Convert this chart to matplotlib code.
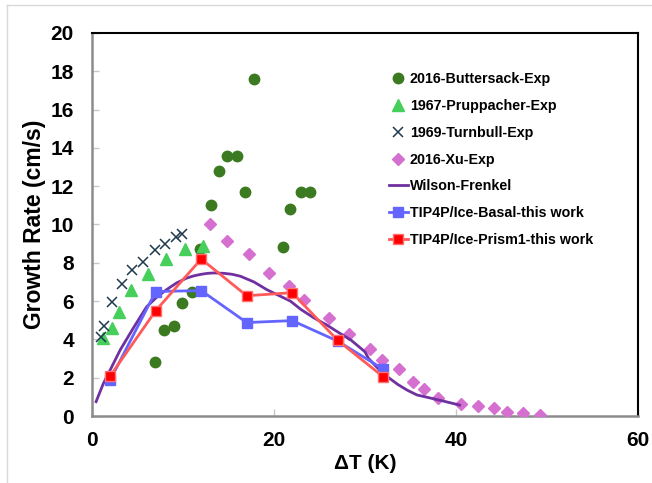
import matplotlib
matplotlib.use("Agg")
import matplotlib.pyplot as plt
from matplotlib.lines import Line2D

plt.rcParams['font.family'] = ['Liberation Sans', 'DejaVu Sans']

# Data
butt_x = [17.8, 14.8, 15.9, 14.0, 16.8, 23.0, 24.0, 13.1, 21.8, 21.0, 11.9, 11.0, 9.9, 9.0, 7.9, 6.9]
butt_y = [17.6, 13.6, 13.6, 12.8, 11.7, 11.7, 11.7, 11.0, 10.8, 8.8, 8.7, 6.5, 5.9, 4.7, 4.5, 2.8]

prup_x = [1.2, 2.2, 3.0, 4.3, 6.1, 8.1, 10.2, 12.2]
prup_y = [4.05, 4.6, 5.45, 6.6, 7.4, 8.2, 8.7, 8.9]

turn_x = [1.0, 1.3, 2.25, 3.3, 4.4, 5.65, 6.9, 8.0, 9.2, 9.9]
turn_y = [4.1, 4.7, 5.97, 6.9, 7.6, 8.05, 8.67, 8.97, 9.33, 9.5]

xu_x = [13.0, 14.8, 17.2, 19.5, 21.6, 23.3, 26.0, 28.25, 30.6, 31.9, 33.7, 35.25, 36.5, 38.0, 40.6, 42.4, 44.2, 45.6, 47.4, 49.2]
xu_y = [10.0, 9.15, 8.44, 7.45, 6.8, 6.04, 5.13, 4.28, 3.48, 2.9, 2.44, 1.76, 1.41, 0.96, 0.61, 0.5, 0.42, 0.19, 0.17, 0.05]

wf_x = [0.45, 1.25, 2.1, 3.1, 4.55, 6.0, 7.1, 8.2, 9.3, 10.4, 11.2, 12.0, 12.7, 13.4, 14.5, 15.4, 16.3, 17.8, 19.2, 20.5, 21.8, 23.0, 24.3, 25.8, 27.3, 28.5, 29.5, 30.0, 30.4, 31.2, 32.0, 32.6, 33.6, 34.6, 35.7, 36.8, 38.6, 40.4]
wf_y = [0.75, 1.7, 2.5, 3.45, 4.6, 5.7, 6.2, 6.6, 6.95, 7.2, 7.32, 7.4, 7.45, 7.47, 7.45, 7.4, 7.3, 7.0, 6.6, 6.3, 6.0, 5.55, 5.15, 4.75, 4.3, 3.95, 3.55, 3.35, 3.0, 2.6, 2.2, 2.0, 1.65, 1.36, 1.1, 0.98, 0.78, 0.57]

sim_x = [2, 7, 12, 17, 22, 27, 32]
basal_y = [1.88, 6.5, 6.55, 4.88, 4.98, 3.91, 2.45]
prism_y = [2.09, 5.5, 8.2, 6.28, 6.44, 3.95, 2.05]

xticks = [0, 20, 40, 60]
yticks = list(range(0, 21, 2))

fig = plt.figure(figsize=(6.52, 4.83), dpi=100)
ax = fig.add_axes([92/652, 1 - 416/483, 546/652, 383/483])

ax.plot(butt_x, butt_y, 'o', color='#3c7a22', markersize=7.5, linestyle='none', label='2016-Buttersack-Exp', zorder=3)
ax.plot(prup_x, prup_y, '^', color='#46cf5a', markersize=8, linestyle='none', label='1967-Pruppacher-Exp', zorder=3)
ax.plot(turn_x, turn_y, 'x', color='#1e3a4c', markersize=7, markeredgewidth=1.1, linestyle='none', label='1969-Turnbull-Exp', zorder=3)
ax.plot(xu_x, xu_y, 'D', color='#d56fd0', markersize=6, linestyle='none', label='2016-Xu-Exp', zorder=3)
ax.plot(wf_x, wf_y, '-', color='#7030a0', linewidth=2, label='Wilson-Frenkel', zorder=4)
ax.plot(sim_x, basal_y, '-s', color='#6464ff', markersize=7.5, linewidth=2, label='TIP4P/Ice-Basal-this work', zorder=5)
ax.plot(sim_x, prism_y, '-s', color='#ff5a5a', markerfacecolor='#ff0000', markeredgecolor='#ff7070',
        markersize=7.5, linewidth=2, label='TIP4P/Ice-Prism1-this work', zorder=6)

ax.set_xlim(0, 60)
ax.set_ylim(0, 20)
ax.set_xticks(xticks)
ax.set_yticks(yticks)
ax.tick_params(direction='in', length=5, width=1, color='#c8c8c8', labelsize=15)
ax.tick_params(axis='y', pad=13)
ax.tick_params(axis='x', pad=11)
for lab in ax.get_xticklabels() + ax.get_yticklabels():
    lab.set_fontweight('bold')

for s in ['left', 'bottom']:
    ax.spines[s].set_color('#8c8c8c')
    ax.spines[s].set_linewidth(1.8)
for s in ['top', 'right']:
    ax.spines[s].set_color('#000000')
    ax.spines[s].set_linewidth(1.5)

ax.set_xlabel('ΔT (K)', fontsize=15, fontweight='bold', labelpad=3)
ax.set_ylabel('Growth Rate (cm/s)', fontsize=16.5, fontweight='bold', labelpad=3)

leg = ax.legend(loc='upper left', bbox_to_anchor=((389 - 92) / 546, (416 - 72) / 383),
                frameon=False, borderpad=0, borderaxespad=0, numpoints=1,
                handlelength=1.3, handletextpad=0.15, labelspacing=0.9,
                prop={'size': 10.3, 'weight': 'bold'})

# light figure frame (top & left)
fig.add_artist(Line2D([7/652, 1.0], [1 - 5/483, 1 - 5/483], transform=fig.transFigure, color='#d9d9d9', linewidth=1))
fig.add_artist(Line2D([7/652, 7/652], [0.0, 1 - 5/483], transform=fig.transFigure, color='#d9d9d9', linewidth=1))

fig.savefig('out.png', dpi=100)
